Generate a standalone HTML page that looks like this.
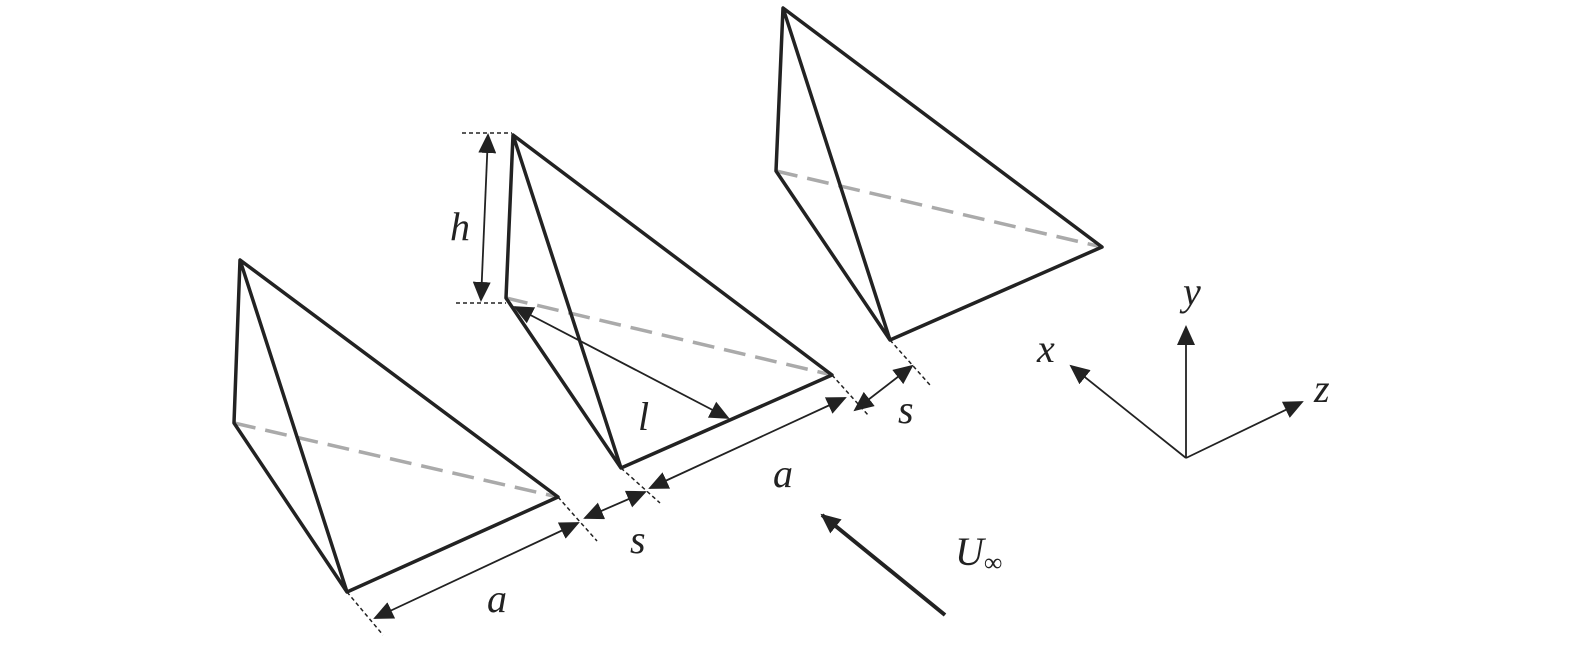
<!DOCTYPE html>
<html><head><meta charset="utf-8"><style>
html,body{margin:0;padding:0;background:#fff;}
svg{display:block}
text{font-family:"Liberation Serif",serif;font-style:italic;font-size:40px;fill:#222}
</style></head><body>
<svg width="1575" height="650" viewBox="0 0 1575 650" xmlns="http://www.w3.org/2000/svg">
<defs>
<marker id="ah" markerWidth="10" markerHeight="10" refX="9" refY="5" orient="auto-start-reverse" markerUnits="userSpaceOnUse" viewBox="0 0 10 10">
<path d="M0,0 L10,5 L0,10 z" fill="#222"/></marker>
<marker id="ahb" markerWidth="20" markerHeight="18" refX="18" refY="9" orient="auto-start-reverse" markerUnits="userSpaceOnUse" viewBox="0 0 20 18">
<path d="M0,0 L20,9 L0,18 z" fill="#222"/></marker>
</defs>
<g stroke="#aaa" stroke-width="3.5" stroke-dasharray="22,10" fill="none">
<line x1="234" y1="423" x2="558" y2="497"/>
<line x1="506" y1="298" x2="832" y2="375"/>
<line x1="776" y1="171" x2="1102" y2="247"/>
</g>
<g stroke="#222" stroke-width="3.5" fill="none" stroke-linejoin="round">
<path d="M240,260 L234,423 L347,592 L558,497 Z M240,260 L347,592"/>
<path d="M513,135 L506,298 L621,468 L832,375 Z M513,135 L621,468"/>
<path d="M783,8 L776,171 L890,340 L1102,247 Z M783,8 L890,340"/>
</g>
<g stroke="#222" stroke-width="1.5" stroke-dasharray="4,3" fill="none">
<line x1="462" y1="133" x2="512" y2="133"/>
<line x1="456" y1="303" x2="506" y2="303"/>
<line x1="347" y1="592" x2="383" y2="635"/>
<line x1="558" y1="497" x2="597" y2="541"/>
<line x1="621" y1="468" x2="660" y2="503"/>
<line x1="832" y1="375" x2="868" y2="415"/>
<line x1="890" y1="340" x2="930" y2="385"/>
</g>
<g stroke="#222" stroke-width="1.8" fill="none">
<line x1="488" y1="135" x2="481" y2="300" marker-start="url(#ahb)" marker-end="url(#ahb)"/>
<line x1="515" y1="307" x2="728" y2="418" marker-start="url(#ahb)" marker-end="url(#ahb)"/>
<line x1="375" y1="618" x2="578" y2="523" marker-start="url(#ahb)" marker-end="url(#ahb)"/>
<line x1="585" y1="518" x2="645" y2="492" marker-start="url(#ahb)" marker-end="url(#ahb)"/>
<line x1="650" y1="488" x2="845" y2="398" marker-start="url(#ahb)" marker-end="url(#ahb)"/>
<line x1="855" y1="410" x2="912" y2="366" marker-start="url(#ahb)" marker-end="url(#ahb)"/>
<line x1="1186" y1="458" x2="1186" y2="327" marker-end="url(#ahb)"/>
<line x1="1186" y1="458" x2="1071" y2="366" marker-end="url(#ahb)"/>
<line x1="1186" y1="458" x2="1302" y2="402" marker-end="url(#ahb)"/>
</g>
<line x1="945" y1="615" x2="822" y2="515" stroke="#222" stroke-width="4" marker-end="url(#ahb)"/>
<text x="450" y="240">h</text>
<text x="638" y="430">l</text>
<text x="487" y="612">a</text>
<text x="630" y="553">s</text>
<text x="773" y="487">a</text>
<text x="898" y="423">s</text>
<text x="955" y="565">U<tspan font-size="26" font-style="normal" dy="6">∞</tspan></text>
<text x="1183" y="305">y</text>
<text x="1037" y="362">x</text>
<text x="1314" y="402">z</text>
</svg>
</body></html>
